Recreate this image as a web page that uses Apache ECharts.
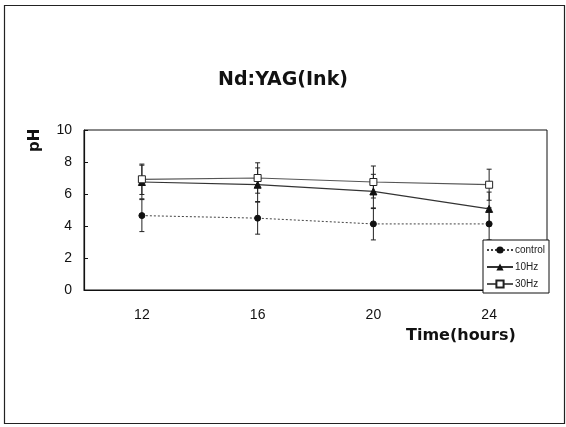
<!DOCTYPE html>
<html>
<head>
<meta charset="utf-8">
<script src="https://cdn.jsdelivr.net/npm/echarts@6/dist/echarts.min.js"></script>
<style>html,body{margin:0;padding:0;background:#fff}#c{width:566px;height:427px}</style>
</head>
<body>
<div id="c"></div>
<script>
var categories = ['12', '16', '20', '24'];
var controlValues = [4.65, 4.49, 4.13, 4.13];
var controlErr = [1.0, 1.0, 1.0, 1.0];
var hz10Values = [6.75, 6.58, 6.16, 5.07];
var hz10Err = [1.05, 1.05, 1.07, 1.05];
var hz30Values = [6.92, 7.0, 6.75, 6.58];
var hz30Err = [0.95, 0.95, 1.0, 0.97];
var yTicks = [0, 2, 4, 6, 8, 10];

function errData(vals, errs) {
  return vals.map(function (v, i) { return [i, v - errs[i], v + errs[i]]; });
}
function errSeries(vals, errs) {
  return {
    type: 'custom',
    silent: true,
    z: 1,
    data: errData(vals, errs),
    renderItem: function (params, api) {
      var lo = api.coord([api.value(0), api.value(1)]);
      var hi = api.coord([api.value(0), api.value(2)]);
      var w = 2.5;
      var st = { stroke: '#222', lineWidth: 1 };
      return {
        type: 'group',
        children: [
          { type: 'line', shape: { x1: lo[0], y1: lo[1], x2: hi[0], y2: hi[1] }, style: st },
          { type: 'line', shape: { x1: lo[0] - w, y1: lo[1], x2: lo[0] + w, y2: lo[1] }, style: st },
          { type: 'line', shape: { x1: hi[0] - w, y1: hi[1], x2: hi[0] + w, y2: hi[1] }, style: st }
        ]
      };
    }
  };
}

var chart = echarts.init(document.getElementById('c'));
chart.setOption({
  animation: false,
  backgroundColor: '#fff',
  title: {
    text: 'Nd:YAG(Ink)',
    left: 'center',
    top: 66,
    textStyle: { fontFamily: 'DejaVu Sans', fontWeight: 'bold', fontSize: 19, color: '#111' }
  },
  graphic: [
    { type: 'rect', shape: { x: 4.5, y: 5.5, width: 560, height: 418 }, style: { fill: 'none', stroke: '#222', lineWidth: 1.2 }, z: 0 },
    { type: 'text', left: 406, top: 328, style: { text: 'Time(hours)', font: 'bold 16px "DejaVu Sans"', fill: '#111' } },
    { type: 'text', rotation: Math.PI / 2, x: 28, y: 152, style: { text: 'pH', font: 'bold 15px "DejaVu Sans"', fill: '#111' } }
  ],
  grid: { left: 84, top: 130, width: 463, height: 160, show: true, borderColor: '#111', borderWidth: 1, backgroundColor: 'transparent' },
  legend: {
    orient: 'vertical',
    left: 483,
    top: 240,
    width: 64,
    padding: [5, 4, 4, 3],
    itemGap: 7,
    itemWidth: 26,
    itemHeight: 9,
    backgroundColor: '#fff',
    borderColor: '#111',
    borderWidth: 1,
    textStyle: { fontFamily: 'Liberation Sans', fontSize: 10, color: '#222', padding: [0, 0, 0, -3] },
    data: ['control', '10Hz', '30Hz'],
    z: 10
  },
  xAxis: {
    type: 'category',
    data: categories,
    boundaryGap: true,
    axisLine: { lineStyle: { color: '#111', width: 1.2 } },
    axisTick: { inside: true, length: 4, alignWithLabel: false, lineStyle: { color: '#111' } },
    axisLabel: { fontFamily: 'Liberation Sans', fontSize: 14, color: '#111', margin: 18 }
  },
  yAxis: {
    type: 'value',
    min: yTicks[0],
    max: yTicks[yTicks.length - 1],
    interval: 2,
    splitLine: { show: false },
    axisLine: { show: true, lineStyle: { color: '#111', width: 1.2 } },
    axisTick: { show: true, inside: true, length: 4, lineStyle: { color: '#111' } },
    axisLabel: { fontFamily: 'Liberation Sans', fontSize: 14, color: '#111', margin: 12 }
  },
  series: [
    errSeries(controlValues, controlErr),
    errSeries(hz10Values, hz10Err),
    errSeries(hz30Values, hz30Err),
    {
      name: 'control', type: 'line', data: controlValues, z: 3,
      symbol: 'circle', symbolSize: 6,
      lineStyle: { color: '#444', width: 1, type: [2, 2] },
      itemStyle: { color: '#111', borderColor: '#111' }
    },
    {
      name: '10Hz', type: 'line', data: hz10Values, z: 4,
      symbol: 'triangle', symbolSize: 7,
      lineStyle: { color: '#333', width: 1.2 },
      itemStyle: { color: '#111', borderColor: '#111' }
    },
    {
      name: '30Hz', type: 'line', data: hz30Values, z: 5,
      symbol: 'rect', symbolSize: 7,
      lineStyle: { color: '#555', width: 1.2 },
      itemStyle: { color: '#fff', borderColor: '#222', borderWidth: 1 }
    }
  ]
});
</script>
</body>
</html>
